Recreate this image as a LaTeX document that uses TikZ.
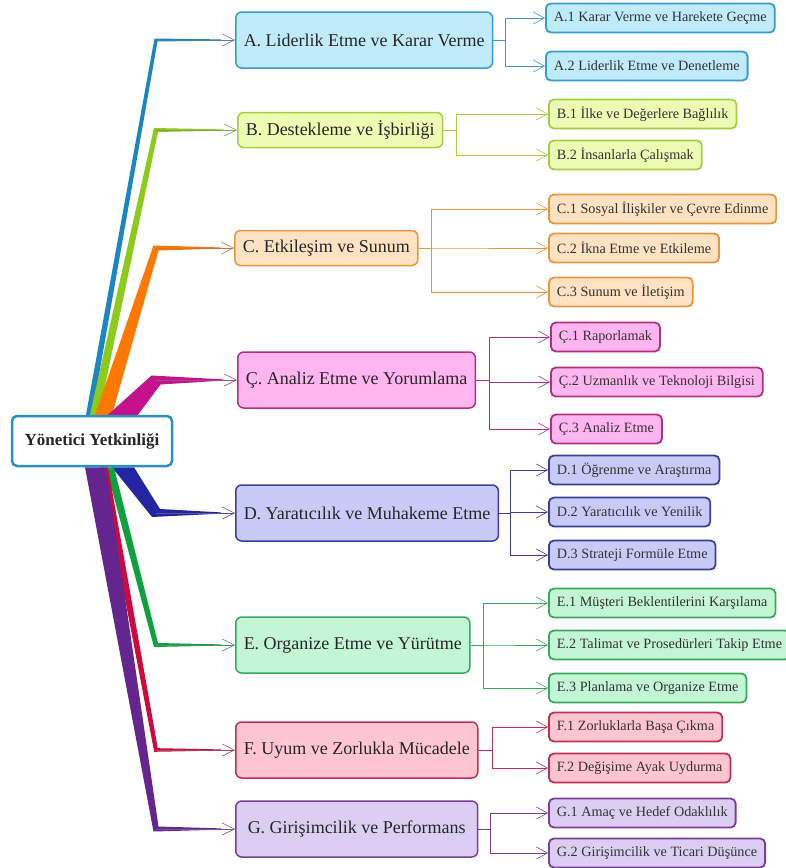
\documentclass[tikz,border=0pt]{standalone}
\usepackage{fontspec}
\setmainfont{Liberation Serif}
\usetikzlibrary{calc,arrows.meta,backgrounds}

\definecolor{rootline}{HTML}{2A8FC2}
\definecolor{Abox}{HTML}{BFEBFA}\definecolor{Aline}{HTML}{3A9BC8}\definecolor{Astem}{HTML}{1B86C6}
\definecolor{Bbox}{HTML}{EEFBB4}\definecolor{Bline}{HTML}{A6CF3F}\definecolor{Bstem}{HTML}{8CCB1A}
\definecolor{Cbox}{HTML}{FFE2C2}\definecolor{Cline}{HTML}{E8963C}\definecolor{Cstem}{HTML}{FF7800}
\definecolor{Ccbox}{HTML}{FFB5F0}\definecolor{Ccline}{HTML}{B0307E}\definecolor{Ccstem}{HTML}{C4128A}
\definecolor{Dbox}{HTML}{C8CBF7}\definecolor{Dline}{HTML}{3B3F96}\definecolor{Dstem}{HTML}{2326A0}
\definecolor{Ebox}{HTML}{C3F6D5}\definecolor{Eline}{HTML}{38A85C}\definecolor{Estem}{HTML}{0EA23E}
\definecolor{Fbox}{HTML}{FFC5D3}\definecolor{Fline}{HTML}{BF2F52}\definecolor{Fstem}{HTML}{CC0A3C}
\definecolor{Gbox}{HTML}{DCCDF3}\definecolor{Gline}{HTML}{7B3D98}\definecolor{Gstem}{HTML}{65258E}

% tapered stem from the top of the root box: colour prefix, left, right, half width, node
\newcommand\stemup[5]{%
  \fill[#1stem] ($(root.north)+(#2,0)$) -- ($(root.north)+(#3,0)$)
    -- ($(#5.west -| bx)+(#4,#4)$) -- ($(#5.west)+(-14,0.6)$)
    -- ($(#5.west)+(-14,-0.6)$) -- ($(#5.west -| bx)+(-#4,-#4)$) -- cycle;
  \draw[tip=#1] (root) (#5.west -| bx) -- (#5.west);
}
% same, from the bottom of the root box
\newcommand\stemdown[5]{%
  \fill[#1stem] ($(root.south)+(#2,0)$) -- ($(root.south)+(#3,0)$)
    -- ($(#5.west -| bx)+(#4,-#4)$) -- ($(#5.west)+(-14,-0.6)$)
    -- ($(#5.west)+(-14,0.6)$) -- ($(#5.west -| bx)+(-#4,#4)$) -- cycle;
  \draw[tip=#1] (root) (#5.west -| bx) -- (#5.west);
}

\begin{document}
\begin{tikzpicture}
  [
    x=1pt, y=-1pt,
    root/.style={
      draw=rootline, line width=2.5pt, fill=white, rounded corners=5pt,
      minimum width=160pt, minimum height=50pt,
      font=\fontsize{17}{20}\selectfont\bfseries, text=black!85
    },
    head/.style={
      draw=#1line, fill=#1box, line width=1.5pt, rounded corners=6pt,
      anchor=west, inner xsep=8pt, minimum height=56pt,
      font=\fontsize{18}{21}\selectfont, text=black!85
    },
    low/.style={minimum height=35pt},
    leaf/.style={
      draw=#1line, fill=#1box, line width=1.8pt, rounded corners=5pt,
      anchor=west, inner xsep=8pt, minimum height=29pt,
      font=\fontsize{14.2}{16}\selectfont, text=black!80
    },
    link/.style={
      draw=#1line, line width=0.8pt,
      -{Straight Barb[length=11pt,width=12pt,line width=0.6pt]}
    },
    tip/.style={
      draw=#1stem!45!gray, line width=0.6pt,
      -{Straight Barb[length=12pt,width=12pt,line width=0.6pt]}
    }
  ]

  \useasboundingbox (0,0) rectangle (785,868);

  \node[root] (root) at (92,441) {Yönetici Yetkinliği};
  \coordinate (bx) at (156,0);

  \node[head=A] (A) at (235,40) {A. Liderlik Etme ve Karar Verme};
  \node[head=B,low] (B) at (237,130) {B. Destekleme ve İşbirliği};
  \node[head=C,low] (C) at (234,248) {C. Etkileşim ve Sunum};
  \node[head=Cc] (Cc) at (237,380) {Ç. Analiz Etme ve Yorumlama};
  \node[head=D] (D) at (235,513) {D. Yaratıcılık ve Muhakeme Etme};
  \node[head=E] (E) at (235,645) {E. Organize Etme ve Yürütme};
  \node[head=F] (F) at (235,750) {F. Uyum ve Zorlukla Mücadele};
  \node[head=G,inner xsep=12pt] (G) at (235,829) {G. Girişimcilik ve Performans};

  \begin{scope}[on background layer]
    \stemup{A}{-6}{0}{1.5}{A}
    \stemup{B}{-2}{7}{2}{B}
    \stemup{C}{3}{20}{2.5}{C}
    \stemup{Cc}{16}{46}{4.5}{Cc}
    \stemdown{D}{20}{42}{4}{D}
    \stemdown{E}{14}{22}{2}{E}
    \stemdown{F}{8}{16}{1.8}{F}
    \stemdown{G}{-7}{14}{2.5}{G}
  \end{scope}

  \foreach \n/\y/\txt in {1/18/{A.1 Karar Verme ve Harekete Geçme},
                          2/66/{A.2 Liderlik Etme ve Denetleme}} {
    \node[leaf=A] (A\n) at (545,\y) {\txt};
    \draw[link=A] (A.east) -- ++(12,0) |- (A\n.west);
  }
  \foreach \n/\y/\txt in {1/114/{B.1 İlke ve Değerlere Bağlılık},
                          2/155/{B.2 İnsanlarla Çalışmak}} {
    \node[leaf=B] (B\n) at (548,\y) {\txt};
    \draw[link=B] (B.east) -- ++(13,0) |- (B\n.west);
  }
  \foreach \n/\y/\txt in {1/209/{C.1 Sosyal İlişkiler ve Çevre Edinme},
                          2/248/{C.2 İkna Etme ve Etkileme},
                          3/292/{C.3 Sunum ve İletişim}} {
    \node[leaf=C] (C\n) at (548,\y) {\txt};
    \draw[link=C] (C.east) -- ++(13,0) |- (C\n.west);
  }
  \foreach \n/\y/\txt in {1/337/{Ç.1 Raporlamak},
                          2/382/{Ç.2 Uzmanlık ve Teknoloji Bilgisi},
                          3/429/{Ç.3 Analiz Etme}} {
    \node[leaf=Cc] (Cc\n) at (550,\y) {\txt};
    \draw[link=Cc] (Cc.east) -- ++(13,0) |- (Cc\n.west);
  }
  \foreach \n/\y/\txt in {1/470/{D.1 Öğrenme ve Araştırma},
                          2/512/{D.2 Yaratıcılık ve Yenilik},
                          3/555/{D.3 Strateji Formüle Etme}} {
    \node[leaf=D] (D\n) at (548,\y) {\txt};
    \draw[link=D] (D.east) -- ++(11,0) |- (D\n.west);
  }
  \foreach \n/\y/\txt in {1/603/{E.1 Müşteri Beklentilerini Karşılama},
                          2/645/{E.2 Talimat ve Prosedürleri Takip Etme},
                          3/688/{E.3 Planlama ve Organize Etme}} {
    \node[leaf=E] (E\n) at (548,\y) {\txt};
    \draw[link=E] (E.east) -- ++(13,0) |- (E\n.west);
  }
  \foreach \n/\y/\txt in {1/727/{F.1 Zorluklarla Başa Çıkma},
                          2/768/{F.2 Değişime Ayak Uydurma}} {
    \node[leaf=F] (F\n) at (548,\y) {\txt};
    \draw[link=F] (F.east) -- ++(14,0) |- (F\n.west);
  }
  \foreach \n/\y/\txt in {1/813/{G.1 Amaç ve Hedef Odaklılık},
                          2/853/{G.2 Girişimcilik ve Ticari Düşünce}} {
    \node[leaf=G] (G\n) at (548,\y) {\txt};
    \draw[link=G] (G.east) -- ++(12,0) |- (G\n.west);
  }

\end{tikzpicture}
\end{document}
